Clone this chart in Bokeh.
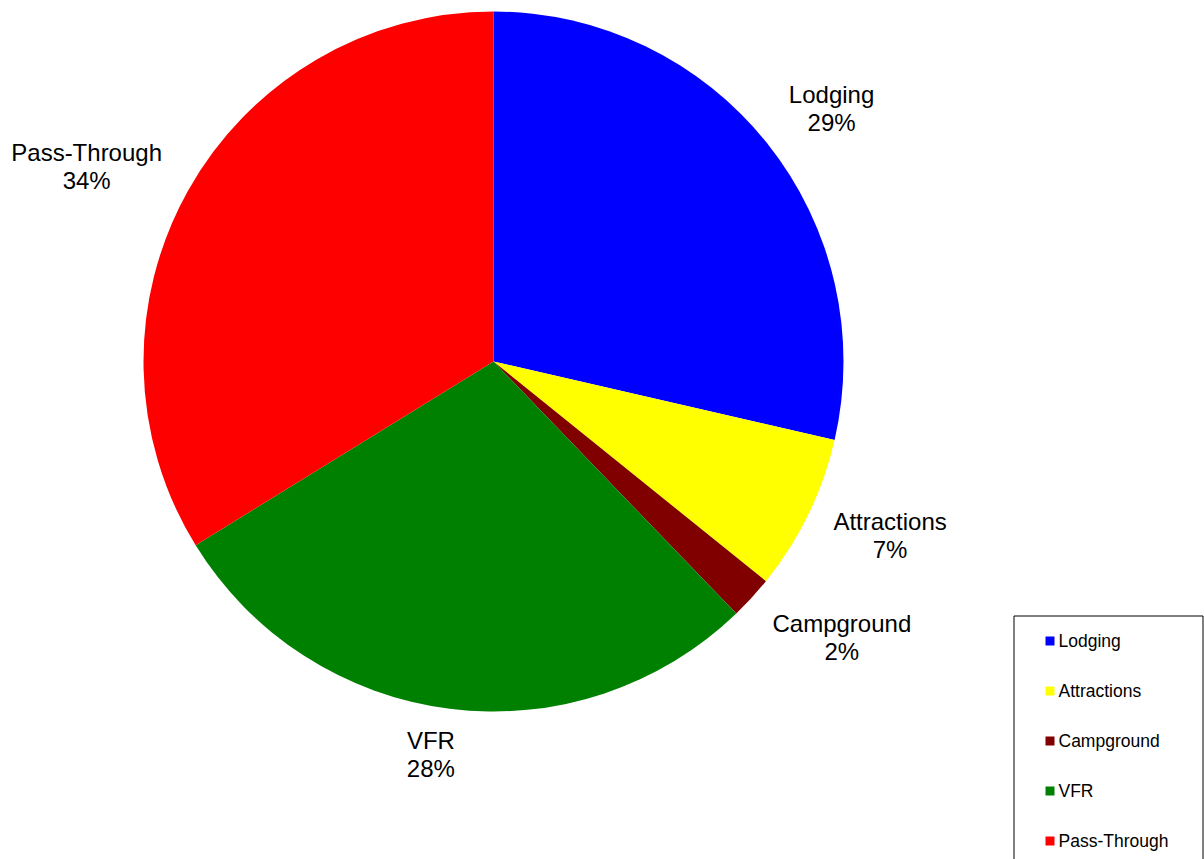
import math
from bokeh.plotting import figure
from bokeh.models import Range1d
from bokeh.core.properties import value
from bokeh.embed import file_html
from bokeh.resources import INLINE

# ---- data ----
categories = ["Lodging", "Attractions", "Campground", "VFR", "Pass-Through"]
shares = [28.6, 7.2, 2.0, 28.4, 33.8]
colors = ["#0000FF", "#FFFF00", "#800000", "#008000", "#FF0000"]

# ---- layout (pixel space, y measured downward from top) ----
W, H = 1204, 859
CX, CY_TOP, R = 493, 361, 350
LABEL_PAD = 22
LABEL_NUDGE = [(5, 5), (-4, -15), (14, -1), (2, -2), (-10, 12)]  # px, (right, down)
LABEL_FONT = "24px"
LEGEND_FONT = "17.5px"
FONT = value("Liberation Sans")

def py(y_top):
    return H - y_top

p = figure(width=W, height=H, output_backend="svg", toolbar_location=None,
           x_range=Range1d(0, W), y_range=Range1d(0, H),
           min_border=0, outline_line_color=None)
p.axis.visible = False
p.grid.visible = False
p.background_fill_color = "white"
p.border_fill_color = "white"

total = sum(shares)
cum = 0.0
starts, ends, mids = [], [], []
for s in shares:
    f = s / total
    starts.append(math.radians(90 - 360 * cum))
    ends.append(math.radians(90 - 360 * (cum + f)))
    mids.append(math.radians(90 - 360 * (cum + f / 2)))
    cum += f

p.wedge(x=[CX] * len(shares), y=[py(CY_TOP)] * len(shares), radius=R,
        start_angle=starts, end_angle=ends, direction="clock",
        fill_color=colors, line_color=None)

# data labels (outside end)
cy = py(CY_TOP)
name_x, name_y, pct_x, pct_y, pct_txt = [], [], [], [], []
for cat, s, m, (ndx, ndy) in zip(categories, shares, mids, LABEL_NUDGE):
    pct = f"{round(s / total * 100)}%"
    ux, uy = math.cos(m), math.sin(m)
    hw = max(len(cat), len(pct)) * 12 / 2
    hh = 26
    ax = CX + (R + LABEL_PAD) * ux + hw * (1 if ux >= 0 else -1) + ndx
    ay = cy + (R + LABEL_PAD) * uy + hh * (1 if uy >= 0 else -1) - ndy
    name_x.append(ax); name_y.append(ay + 14)
    pct_x.append(ax); pct_y.append(ay - 14)
    pct_txt.append(pct)

p.text(x=name_x, y=name_y, text=categories, text_align="center",
       text_baseline="middle", text_font=FONT, text_font_size=LABEL_FONT,
       text_color="black")
p.text(x=pct_x, y=pct_y, text=pct_txt, text_align="center",
       text_baseline="middle", text_font=FONT, text_font_size=LABEL_FONT,
       text_color="black")

# legend (manual, Excel-like)
LEG_L, LEG_R, LEG_T = 1013.5, 1202.5, 615.5
p.quad(left=[LEG_L], right=[LEG_R], top=[py(LEG_T)], bottom=[py(H + 20)],
       fill_color=None, line_color="black", line_width=1)
leg_y = [py(640.5 + 50 * i) for i in range(len(categories))]
p.rect(x=[1049.5] * len(categories), y=leg_y, width=9, height=9,
       fill_color=colors, line_color=None)
p.text(x=[1058] * len(categories), y=leg_y, text=categories,
       text_align="left", text_baseline="middle", text_font=FONT,
       text_font_size=LEGEND_FONT, text_color="black")

open("out.html", "w").write(file_html(p, INLINE))
